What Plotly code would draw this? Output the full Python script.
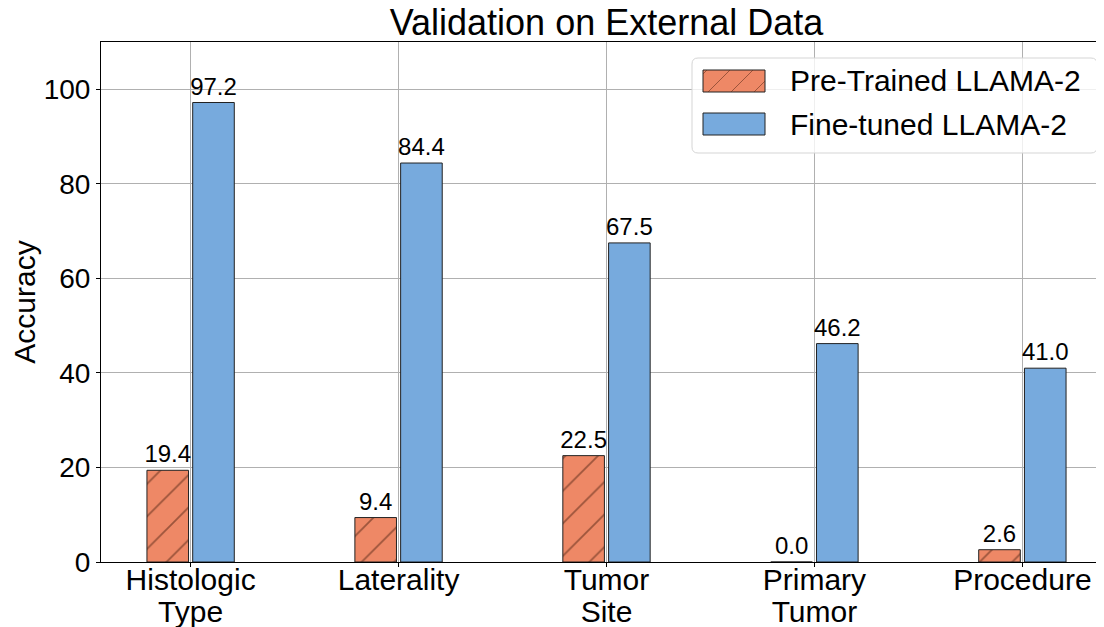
import plotly.graph_objects as go

categories = ["Histologic<br>Type", "Laterality", "Tumor<br>Site", "Primary<br>Tumor", "Procedure"]
pretrained = [19.4, 9.4, 22.5, 0.0, 2.6]
finetuned = [97.2, 84.4, 67.5, 46.2, 41.0]
series_names = ["Pre-Trained LLAMA-2", "Fine-tuned LLAMA-2"]
y_ticks = [0, 20, 40, 60, 80, 100]

positions = list(range(len(categories)))
first_lines = [c.split("<br>")[0] for c in categories]
second_idx = [i for i, c in enumerate(categories) if "<br>" in c]
second_lines = [categories[i].split("<br>")[1] for i in second_idx]

FONT = "Arial, 'Liberation Sans', sans-serif"
ORANGE = "#EE8866"
BLUE = "#77AADD"
EDGE = "#222222"
HATCH = "rgba(90,42,24,0.55)"

# The page body adds an 8px offset; figure pixels = page pixels - 8.
OFF = 8
FIG_W, FIG_H = 1104 + OFF, 627 + OFF
# plot area in page pixels
L, R, T, B = 101, 1112, 42, 562


def px_x(p):
    return (p - L) / (R - L)


def px_y(p):
    return (B - p) / (B - T)


fig = go.Figure()
fig.add_trace(go.Bar(
    x=positions, y=pretrained, name=series_names[0],
    width=0.2, offset=-0.21,
    marker=dict(color=ORANGE, line=dict(color=EDGE, width=1),
                pattern=dict(shape="/", size=23, solidity=0.08,
                             fgcolor="#5a2a18", fgopacity=0.55)),
    text=[f"{v:.1f}" for v in pretrained], textposition="outside",
    textfont=dict(size=24, color="black", family=FONT),
    constraintext="none", cliponaxis=False, showlegend=False,
))
fig.add_trace(go.Bar(
    x=positions, y=finetuned, name=series_names[1],
    width=0.2, offset=0.01,
    marker=dict(color=BLUE, line=dict(color=EDGE, width=1)),
    text=[f"{v:.1f}" for v in finetuned], textposition="outside",
    textfont=dict(size=24, color="black", family=FONT),
    constraintext="none", cliponaxis=False, showlegend=False,
))
# carrier for the second line of the category labels
fig.add_trace(go.Scatter(x=positions, y=[None] * len(positions), xaxis="x2", yaxis="y",
                         mode="markers", showlegend=False, hoverinfo="skip"))

# ---- hand-drawn legend (matplotlib style, large swatches) ----
shapes = []
annotations = []
bx0, bx1, by0, by1 = 692, 1097, 58, 153
rr = 6
path = (f"M {px_x(bx0+rr)},{px_y(by0)} L {px_x(bx1-rr)},{px_y(by0)} "
        f"Q {px_x(bx1)},{px_y(by0)} {px_x(bx1)},{px_y(by0+rr)} "
        f"L {px_x(bx1)},{px_y(by1-rr)} Q {px_x(bx1)},{px_y(by1)} {px_x(bx1-rr)},{px_y(by1)} "
        f"L {px_x(bx0+rr)},{px_y(by1)} Q {px_x(bx0)},{px_y(by1)} {px_x(bx0)},{px_y(by1-rr)} "
        f"L {px_x(bx0)},{px_y(by0+rr)} Q {px_x(bx0)},{px_y(by0)} {px_x(bx0+rr)},{px_y(by0)} Z")
shapes.append(dict(type="path", xref="paper", yref="paper", path=path,
                   fillcolor="rgba(255,255,255,0.8)", line=dict(color="#d5d5d5", width=1),
                   layer="above"))
swatches = [(70, 92, ORANGE, True), (113, 135, BLUE, False)]
sx0, sx1 = 703, 765
for (sy0, sy1, col, hatch), name in zip(swatches, series_names):
    shapes.append(dict(type="rect", xref="paper", yref="paper",
                       x0=px_x(sx0), x1=px_x(sx1), y0=px_y(sy1), y1=px_y(sy0),
                       fillcolor=col, line=dict(color=EDGE, width=1), layer="above"))
    if hatch:
        h = sy1 - sy0
        for start in range(sx0 - h + 4, sx1, 23):
            x_a, y_a = start, sy1
            x_b, y_b = start + h, sy0
            if x_a < sx0:
                y_a -= (sx0 - x_a)
                x_a = sx0
            if x_b > sx1:
                y_b += (x_b - sx1)
                x_b = sx1
            if x_b <= x_a:
                continue
            shapes.append(dict(type="line", xref="paper", yref="paper",
                               x0=px_x(x_a), y0=px_y(y_a), x1=px_x(x_b), y1=px_y(y_b),
                               line=dict(color=HATCH, width=1), layer="above"))
    annotations.append(dict(xref="paper", yref="paper", x=px_x(788), y=px_y((sy0 + sy1) / 2),
                            text=name, showarrow=False, xanchor="left", yanchor="middle",
                            font=dict(size=30, color="black", family=FONT)))

XRANGE = [-0.431, 4.431]

fig.update_layout(
    width=FIG_W, height=FIG_H,
    margin=dict(l=L - OFF, r=FIG_W - (R - OFF), t=T - OFF, b=FIG_H - (B - OFF)),
    paper_bgcolor="white", plot_bgcolor="white",
    barmode="overlay",
    font=dict(family=FONT, color="black"),
    title=dict(text="Validation on External Data", font=dict(size=36, color="black", family=FONT),
               x=0.5, xref="paper", xanchor="center", y=1 - 14 / FIG_H, yanchor="middle"),
    showlegend=False,
    shapes=shapes,
    annotations=annotations,
    xaxis2=dict(overlaying="x", anchor="y", side="bottom", range=XRANGE,
                tickmode="array", tickvals=second_idx, ticktext=second_lines,
                showgrid=False, showline=False, zeroline=False, ticks="",
                tickfont=dict(size=30, color="black", family=FONT),
                automargin=False, ticklabelstandoff=29),
)
fig.layout.xaxis.update(
    range=XRANGE, tickmode="array", tickvals=positions, ticktext=first_lines,
    showgrid=True, gridcolor="#b0b0b0", gridwidth=1, zeroline=False,
    showline=True, linecolor="black", linewidth=1, mirror=True,
    ticks="outside", ticklen=4, tickcolor="black", tickwidth=1,
    tickfont=dict(size=30, color="black", family=FONT),
    automargin=False, ticklabelstandoff=-13,
)
fig.update_yaxes(
    range=[0, 110], tickvals=y_ticks, showgrid=True, gridcolor="#b0b0b0", gridwidth=1,
    zeroline=False, showline=True, linecolor="black", linewidth=1, mirror=True,
    ticks="outside", ticklen=4, tickcolor="black", tickwidth=1,
    tickfont=dict(size=28, color="black", family=FONT),
    automargin=False,
    title=dict(text="Accuracy", font=dict(size=30, color="black", family=FONT), standoff=16),
)

fig.write_html("out.html")
